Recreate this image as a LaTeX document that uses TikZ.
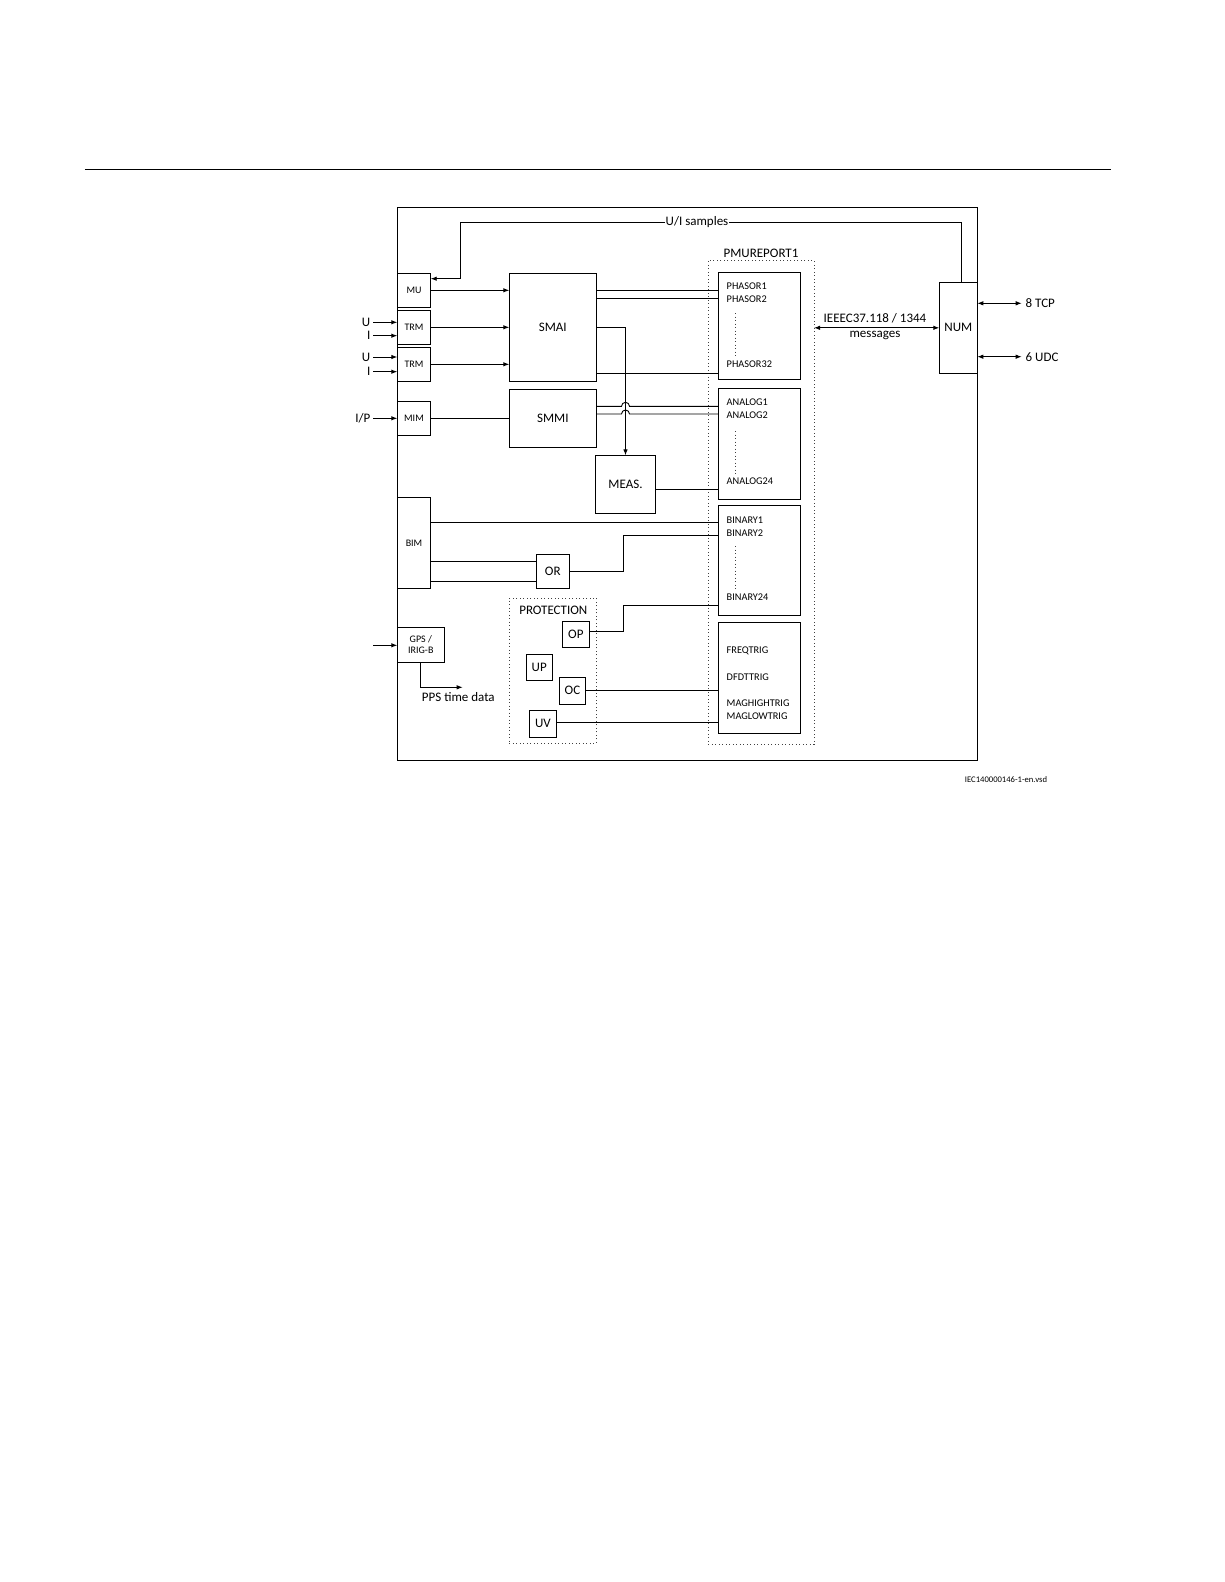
\documentclass[tikz,border=0pt]{standalone}
\usepackage{fontspec}
\setmainfont{Carlito}
\usetikzlibrary{arrows.meta}
\begin{document}
\begin{tikzpicture}[x=1pt,y=-1pt,
  every node/.style={inner sep=0pt,outer sep=0pt},
  ln/.style={line width=0.9pt},
  blk/.style={draw,line width=0.9pt,rectangle,anchor=center},
  sm/.style={font=\fontsize{10}{12}\selectfont},
  lg/.style={font=\fontsize{13}{15}\selectfont},
  pm/.style={font=\fontsize{10.3}{12}\selectfont,anchor=west},
  dotbox/.style={draw,black!75,line width=0.9pt,dash pattern=on 0.9pt off 2.6pt,rectangle,anchor=center},
  vdots/.style={black!75,line width=0.9pt,dash pattern=on 0.9pt off 2.6pt},
  arr/.style={ln,-{Latex[length=6pt,width=4.5pt]}},
  darr/.style={ln,{Latex[length=6pt,width=4.5pt]}-{Latex[length=6pt,width=4.5pt]}}
]
\useasboundingbox[fill=white] (0,0) rectangle (1225,1582);

% top rule
\draw[line width=1pt] (84.8,169.5) -- (1111,169.5);

% frame
\node[blk,minimum width=580pt,minimum height=553pt] (frame) at (687.3,483.8) {};

% dotted groups
\node[dotbox,minimum width=105.7pt,minimum height=484pt] (pmu) at (761.15,502.3) {};
\node[lg,anchor=center] (pmulbl) at (761,253.3) {PMUREPORT1};
\node[dotbox,minimum width=87pt,minimum height=145.3pt] (prot) at (552.8,670.65) {};
\node[lg,anchor=center] (protlbl) at (553.3,610) {PROTECTION};

% left blocks
\node[blk,sm,minimum width=33.4pt,minimum height=34pt] (mu) at (414,290.3) {MU};
\node[blk,sm,minimum width=33.4pt,minimum height=34pt] (trm1) at (414,327.3) {TRM};
\node[blk,sm,minimum width=33.4pt,minimum height=34pt] (trm2) at (414,364.3) {TRM};
\node[blk,sm,minimum width=33.4pt,minimum height=34pt] (mim) at (414,418.3) {MIM};
\node[blk,sm,minimum width=33.4pt,minimum height=91pt] (bim) at (414,542.8) {BIM};
\node[blk,sm,minimum width=47pt,minimum height=35pt,align=center] (gps) at (420.8,644.8) {GPS /\\[-1pt]IRIG-B};

% middle blocks
\node[blk,lg,minimum width=87pt,minimum height=108pt] (smai) at (552.8,327.3) {SMAI};
\node[blk,lg,minimum width=87pt,minimum height=58pt] (smmi) at (552.8,418.3) {SMMI};
\node[blk,lg,minimum width=60.4pt,minimum height=57.7pt] (meas) at (625.5,484.2) {MEAS.};
\node[blk,lg,minimum width=33pt,minimum height=34pt] (or) at (552.8,571.3) {OR};
\node[blk,lg,minimum width=27pt,minimum height=26pt] (op) at (575.8,634.3) {OP};
\node[blk,lg,minimum width=26.3pt,minimum height=25.7pt] (up) at (539.2,667.2) {UP};
\node[blk,lg,minimum width=26.4pt,minimum height=26.7pt] (oc) at (572.5,690.7) {OC};
\node[blk,lg,minimum width=27.4pt,minimum height=26.7pt] (uv) at (543,723.7) {UV};

% PMU report boxes
\node[blk,minimum width=82pt,minimum height=107pt] (phasor) at (759.3,325.8) {};
\node[blk,minimum width=82pt,minimum height=110.6pt] (analog) at (759.3,444) {};
\node[blk,minimum width=82pt,minimum height=109.3pt] (binary) at (759.3,560.35) {};
\node[blk,minimum width=82pt,minimum height=110.6pt] (trig) at (759.3,678) {};

\node[pm] (ph1) at (726.7,285.7) {PHASOR1};
\node[pm] (ph2) at (726.7,298.7) {PHASOR2};
\node[pm] (ph32) at (726.7,364.3) {PHASOR32};
\draw[vdots] (735.7,313) -- (735.7,357);
\node[pm] (an1) at (726.7,402.3) {ANALOG1};
\node[pm] (an2) at (726.7,415.3) {ANALOG2};
\node[pm] (an24) at (726.7,481.3) {ANALOG24};
\draw[vdots] (735.7,431) -- (735.7,474);
\node[pm] (bi1) at (726.7,519.7) {BINARY1};
\node[pm] (bi2) at (726.7,532.7) {BINARY2};
\node[pm] (bi24) at (726.7,597.3) {BINARY24};
\draw[vdots] (735.7,546) -- (735.7,590);
\node[pm] (tr1) at (726.7,650.7) {FREQTRIG};
\node[pm] (tr2) at (726.7,676.7) {DFDTTRIG};
\node[pm] (tr3) at (726.7,702.7) {MAGHIGHTRIG};
\node[pm] (tr4) at (726.7,715.7) {MAGLOWTRIG};

% NUM
\node[blk,lg,minimum width=38pt,minimum height=91pt] (num) at (958.3,327.8) {NUM};

% inputs
\node[lg,anchor=east,inner xsep=3pt] (u1) at (373.3,322.3) {U};
\node[lg,anchor=east,inner xsep=3pt] (i1) at (373.3,335.7) {I};
\node[lg,anchor=east,inner xsep=3pt] (u2) at (373.3,357) {U};
\node[lg,anchor=east,inner xsep=3pt] (i2) at (373.3,371.7) {I};
\node[lg,anchor=east,inner xsep=3pt] (ip) at (373.3,418.3) {I/P};
\draw[arr] (u1.east) -- (trm1.west |- u1.east);
\draw[arr] (i1.east) -- (trm1.west |- i1.east);
\draw[arr] (u2.east) -- (trm2.west |- u2.east);
\draw[arr] (i2.east) -- (trm2.west |- i2.east);
\draw[arr] (ip.east) -- (mim.west);
\coordinate (gpsin) at (373.3,645.3);
\draw[arr] (gpsin) -- (gps.west |- gpsin);

% U/I samples loop
\coordinate (uiA) at (460,222.3);
\draw[arr] ([xshift=3.4pt]num.north) |- (uiA) -- (460,278.7) -- (mu.east |- 0,278.7);
\node[lg,fill=white,inner xsep=1pt,inner ysep=2pt] (uilbl) at (697,222.3) {U/I samples};

% left to SMAI/SMMI
\draw[arr] (mu.east) -- (smai.west |- mu.east);
\draw[arr] (trm1.east) -- (smai.west |- trm1.east);
\draw[arr] (trm2.east) -- (smai.west |- trm2.east);
\draw[ln] (mim.east) -- (smmi.west);

% SMAI to PHASOR
\draw[ln] (smai.east |- 0,290.3) -- (phasor.west |- 0,290.3);
\draw[ln] (smai.east |- 0,298.3) -- (phasor.west |- 0,298.3);
\draw[ln] (smai.east |- 0,373) -- (phasor.west |- 0,373);
% SMAI to MEAS
\draw[arr] (smai.east) -- (625.5,327.3) -- (meas.north);
% SMMI to ANALOG with jumps
\draw[ln] (smmi.east |- 0,406.3) -- (621.5,406.3) arc[start angle=180,end angle=0,radius=4pt] -- (analog.west |- 0,406.3);
\draw[ln] (smmi.east |- 0,414) -- (621.5,414) arc[start angle=180,end angle=0,radius=4pt] -- (analog.west |- 0,414);
% MEAS to ANALOG24
\draw[ln] (meas.east |- 0,489.3) -- (analog.west |- 0,489.3);

% BIM
\draw[ln] (bim.east |- 0,522.3) -- (binary.west |- 0,522.3);
\draw[ln] (bim.east |- 0,561.7) -- (or.west |- 0,561.7);
\draw[ln] (bim.east |- 0,581.3) -- (or.west |- 0,581.3);
\draw[ln] (or.east) -- (623.3,571.3) -- (623.3,535.3) -- (binary.west |- 0,535.3);

% protection
\draw[ln] (op.east |- 0,631) -- (623.3,631) -- (623.3,605) -- (binary.west |- 0,605);
\draw[ln] (oc.east |- 0,690) -- (trig.west |- 0,690);
\draw[ln] (uv.east |- 0,722.7) -- (trig.west |- 0,722.7);

% GPS PPS
\coordinate (ppsend) at (462.7,687.3);
\draw[arr] (gps.south) |- (ppsend);
\node[lg] (pps) at (458.3,697) {PPS time data};

% IEEE
\draw[darr] (pmu.east |- num.west) -- (num.west);
\node[lg] (ieee1) at (875,318) {IEEEC37.118 / 1344};
\node[lg] (ieee2) at (875,335.5) {messages};

% TCP/UDC
\node[lg,anchor=west,inner xsep=4pt] (tcp) at (1021.7,303.3) {8 TCP};
\node[lg,anchor=west,inner xsep=4pt] (udc) at (1021.7,356.7) {6 UDC};
\draw[darr] (frame.east |- tcp.west) -- (tcp.west);
\draw[darr] (frame.east |- udc.west) -- (udc.west);

% footer
\node[font=\fontsize{8.6}{10}\selectfont] (foot) at (1006,779.5) {IEC140000146-1-en.vsd};
\end{tikzpicture}
\end{document}
